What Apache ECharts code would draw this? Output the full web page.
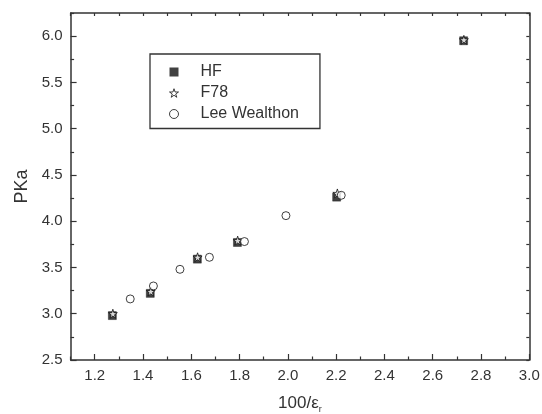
<!DOCTYPE html>
<html>
<head>
<meta charset="utf-8">
<script src="https://cdn.jsdelivr.net/npm/echarts@6/dist/echarts.min.js"></script>
<style>
  html, body { margin: 0; padding: 0; background: #fff; }
  #chart { width: 542px; height: 414px; }
</style>
</head>
<body>
<div id="chart"></div>
<script>
// pKa against 100/epsilon_r for three data sets
const hfX   = [1.273, 1.430, 1.625, 1.791, 2.202, 2.728];
const hfY   = [2.98, 3.22, 3.59, 3.77, 4.26, 5.95];
const f78X  = [1.275, 1.432, 1.626, 1.792, 2.205, 2.729];
const f78Y  = [3.00, 3.24, 3.61, 3.79, 4.30, 5.96];
const leeX  = [1.347, 1.443, 1.553, 1.675, 1.820, 1.992, 2.221];
const leeY  = [3.16, 3.30, 3.48, 3.61, 3.78, 4.06, 4.28];

// axis ticks
const xMajorTicks = [1.2, 1.4, 1.6, 1.8, 2.0, 2.2, 2.4, 2.6, 2.8, 3.0];
const xMinorTicks = [1.1, 1.3, 1.5, 1.7, 1.9, 2.1, 2.3, 2.5, 2.7, 2.9];
const yMajorTicks = [2.5, 3.0, 3.5, 4.0, 4.5, 5.0, 5.5, 6.0];
const yMinorTicks = [2.75, 3.25, 3.75, 4.25, 4.75, 5.25, 5.75, 6.25];

const X_MIN = 1.1, X_MAX = 3.0, Y_MIN = 2.5, Y_MAX = 6.25;

const pairs = (xs, ys) => xs.map((x, i) => [x, ys[i]]);
const allX = xMajorTicks.concat(xMinorTicks).sort((a, b) => a - b);
const allY = yMajorTicks.concat(yMinorTicks).sort((a, b) => a - b);

const INK = '#333';
const FONT = 'Liberation Sans, Arial, sans-serif';
const SQUARE = 'path://M0,0H10V10H0Z';
const STAR = 'path://M50,0L61.23,34.55L97.55,34.55L68.16,55.9L79.39,90.45L50,69.1L20.61,90.45L31.84,55.9L2.45,34.55L38.77,34.55Z';

const lineStyle = { color: INK, width: 1.5 };

function xAxisDef(pos, ticks, len, showLine, showLabel, extra) {
  return Object.assign({
    type: 'value', position: pos, min: X_MIN, max: X_MAX,
    axisLine: { show: showLine, onZero: false, lineStyle: lineStyle },
    axisTick: { show: true, inside: true, length: len, customValues: ticks, lineStyle: { color: INK, width: 1.2 } },
    axisLabel: showLabel
      ? { show: true, customValues: ticks, margin: 8, fontSize: 15, color: INK, fontFamily: FONT,
          formatter: v => v.toFixed(1) }
      : { show: false },
    splitLine: { show: false }
  }, extra || {});
}
function yAxisDef(pos, ticks, len, showLine, showLabel, extra) {
  return Object.assign({
    type: 'value', position: pos, min: Y_MIN, max: Y_MAX,
    axisLine: { show: showLine, onZero: false, lineStyle: lineStyle },
    axisTick: { show: true, inside: true, length: len, customValues: ticks, lineStyle: { color: INK, width: 1.2 } },
    axisLabel: showLabel
      ? { show: true, customValues: ticks, margin: 8, fontSize: 15, color: INK, fontFamily: FONT,
          formatter: v => v.toFixed(1) }
      : { show: false },
    splitLine: { show: false }
  }, extra || {});
}

const chart = echarts.init(document.getElementById('chart'), null, { renderer: 'canvas' });
chart.setOption({
  animation: false,
  backgroundColor: '#fff',
  grid: { left: 70.6, right: 12.7, top: 13, bottom: 54, containLabel: false, outerBoundsMode: 'none' },
  legend: {
    orient: 'vertical',
    left: 150, top: 54,
    padding: [7.5, 21, 4, 19],
    itemGap: 0,
    itemWidth: 9, itemHeight: 9,
    borderColor: INK, borderWidth: 1.3,
    backgroundColor: '#fff',
    formatter: name => '{s| }' + name,
    textStyle: { fontSize: 16, color: INK, fontFamily: FONT, lineHeight: 21,
      rich: { s: { width: 17, fontSize: 16, lineHeight: 21 } } },
    data: [
      { name: 'HF', icon: 'rect', itemStyle: { color: '#111', borderWidth: 0 } },
      { name: 'F78', icon: STAR, itemStyle: { color: '#fff', borderColor: '#111', borderWidth: 1 } },
      { name: 'Lee Wealthon', icon: 'circle', itemStyle: { color: '#fff', borderColor: '#111', borderWidth: 1 } }
    ]
  },
  xAxis: [
    xAxisDef('bottom', xMajorTicks, 6, true, true, {
      name: '100/ε{r|r}', nameLocation: 'middle', nameGap: 33,
      nameTextStyle: { fontSize: 17, color: INK, fontFamily: FONT,
        rich: { r: { fontSize: 9, color: INK, fontFamily: FONT, padding: [12, 0, 0, 0] } } }
    }),
    xAxisDef('bottom', xMinorTicks, 3.5, false, false),
    xAxisDef('top', allX, 3, true, false)
  ],
  yAxis: [
    yAxisDef('left', yMajorTicks, 6, true, true, {
      name: 'PKa', nameLocation: 'middle', nameGap: 38, nameRotate: 90,
      nameTextStyle: { fontSize: 18, color: INK, fontFamily: FONT }
    }),
    yAxisDef('left', yMinorTicks, 3.5, false, false),
    yAxisDef('right', allY, 3, true, false)
  ],
  series: [
    {
      name: 'HF', type: 'scatter', xAxisIndex: 0, yAxisIndex: 0,
      symbol: SQUARE, symbolSize: 8,
      itemStyle: { color: '#111', borderColor: '#111', borderWidth: 0.5 },
      data: pairs(hfX, hfY)
    },
    {
      name: 'F78', type: 'scatter', xAxisIndex: 0, yAxisIndex: 0,
      symbol: STAR, symbolSize: 9,
      itemStyle: { color: '#fff', borderColor: '#111', borderWidth: 1 },
      data: pairs(f78X, f78Y)
    },
    {
      name: 'Lee Wealthon', type: 'scatter', xAxisIndex: 0, yAxisIndex: 0,
      symbol: 'circle', symbolSize: 8,
      itemStyle: { color: '#fff', borderColor: '#111', borderWidth: 1 },
      data: pairs(leeX, leeY)
    }
  ]
});
</script>
</body>
</html>
